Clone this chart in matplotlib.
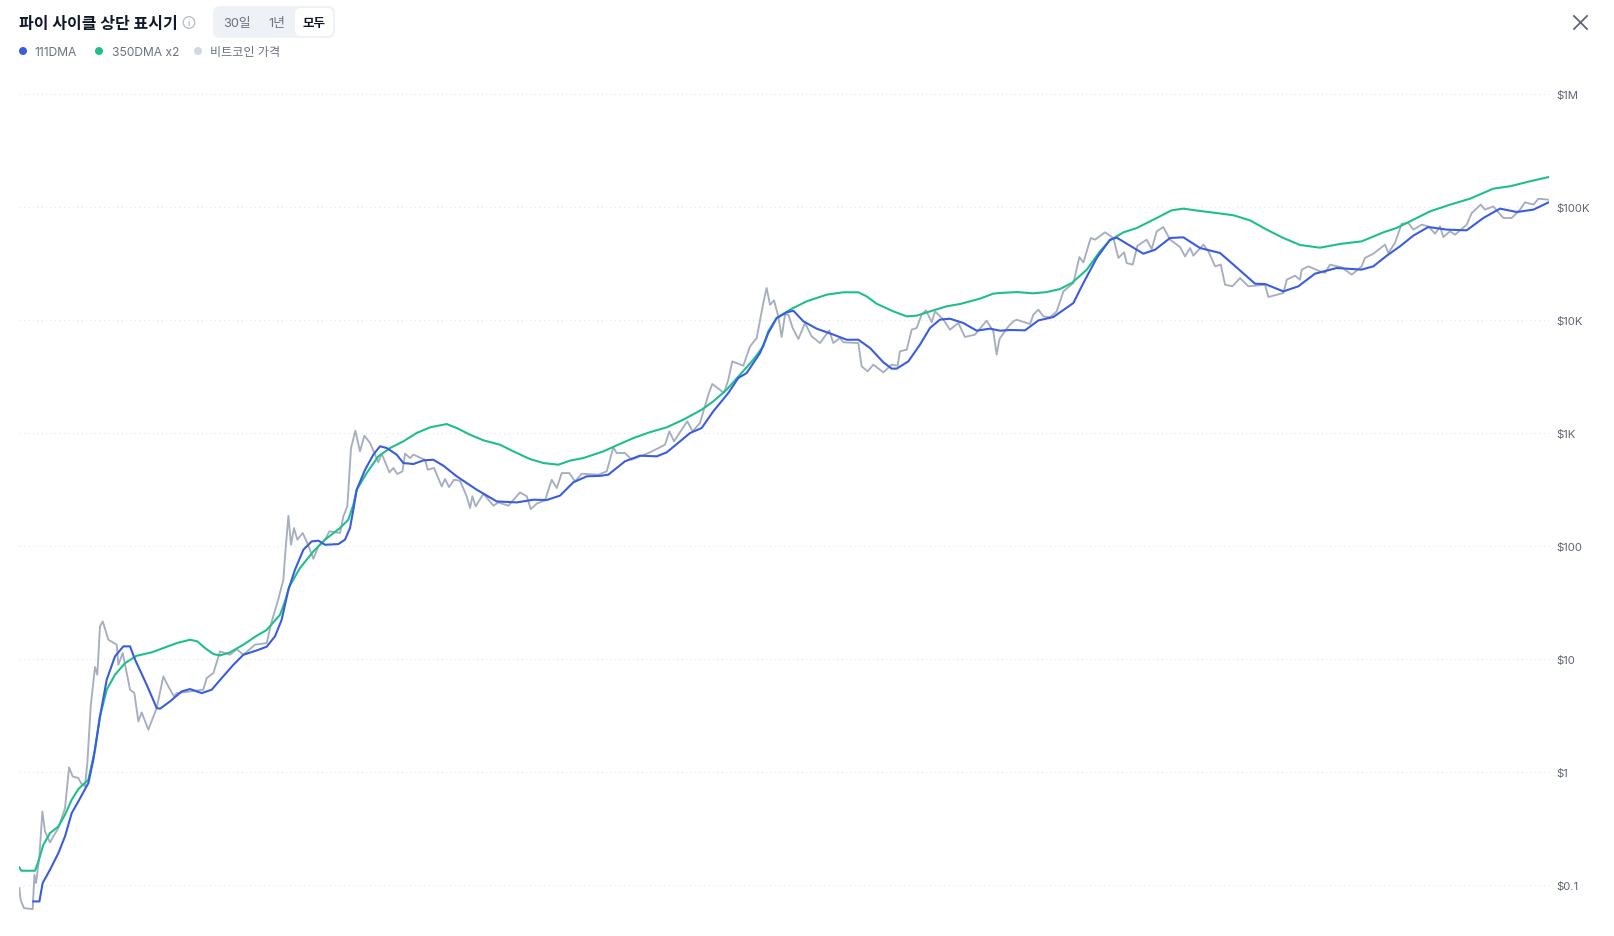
import numpy as np
import matplotlib
matplotlib.use("Agg")
import matplotlib.pyplot as plt
from matplotlib.patches import FancyBboxPatch, Circle

plt.rcParams['font.family'] = ['Inter', 'Noto Sans CJK KR', 'DejaVu Sans']

green_years = [2010.63, 2010.65, 2010.784, 2010.817, 2010.866, 2010.931, 2011.013, 2011.078, 2011.144, 2011.209,
               2011.307, 2011.372, 2011.421, 2011.487, 2011.568, 2011.667, 2011.781, 2011.928, 2012.042, 2012.173,
               2012.304, 2012.376, 2012.451, 2012.533, 2012.598, 2012.696, 2012.827, 2012.957, 2013.055, 2013.186,
               2013.235, 2013.278, 2013.382, 2013.513, 2013.627, 2013.774, 2013.856, 2013.905, 2013.938, 2014.036,
               2014.15, 2014.265, 2014.395, 2014.526, 2014.657, 2014.82, 2014.918, 2015.049, 2015.18, 2015.343,
               2015.474, 2015.637, 2015.768, 2015.915, 2016.029, 2016.16, 2016.356, 2016.486, 2016.65, 2016.813,
               2016.977, 2017.14, 2017.32, 2017.434, 2017.565, 2017.696, 2017.826, 2017.924, 2017.973, 2018.055,
               2018.186, 2018.349, 2018.545, 2018.709, 2018.856, 2018.937, 2019.035, 2019.199, 2019.33, 2019.428,
               2019.558, 2019.722, 2019.852, 2020.049, 2020.179, 2020.245, 2020.408, 2020.572, 2020.703, 2020.833,
               2020.948, 2021.095, 2021.225, 2021.323, 2021.454, 2021.585, 2021.748, 2021.928, 2022.042, 2022.206,
               2022.369, 2022.533, 2022.696, 2022.859, 2023.023, 2023.186, 2023.382, 2023.578, 2023.79, 2024.003,
               2024.134, 2024.297, 2024.461, 2024.657, 2024.853, 2025.081, 2025.245, 2025.441, 2025.624]
green_log = [-0.848, -0.877, -0.877, -0.795, -0.647, -0.544, -0.485, -0.381, -0.248, -0.154,
             -0.071, 0.194, 0.49, 0.726, 0.859, 0.962, 1.027, 1.057, 1.095, 1.139,
             1.169, 1.154, 1.095, 1.042, 1.03, 1.057, 1.125, 1.204, 1.255, 1.39,
             1.509, 1.641, 1.804, 1.951, 2.055, 2.158, 2.232, 2.365, 2.498, 2.645,
             2.793, 2.867, 2.926, 3.0, 3.05, 3.079, 3.044, 2.985, 2.935, 2.896,
             2.837, 2.769, 2.734, 2.719, 2.755, 2.778, 2.837, 2.89, 2.955, 3.007,
             3.05, 3.118, 3.206, 3.28, 3.384, 3.516, 3.649, 3.767, 3.9, 4.018,
             4.092, 4.166, 4.225, 4.246, 4.246, 4.21, 4.145, 4.077, 4.033, 4.039,
             4.077, 4.122, 4.142, 4.19, 4.234, 4.24, 4.248, 4.237, 4.248, 4.275,
             4.328, 4.446, 4.609, 4.706, 4.777, 4.815, 4.889, 4.972, 4.987, 4.966,
             4.948, 4.928, 4.883, 4.801, 4.727, 4.665, 4.641, 4.674, 4.697, 4.777,
             4.816, 4.889, 4.963, 5.022, 5.075, 5.164, 5.185, 5.229, 5.267]

blue_years = [2010.768, 2010.827, 2010.859, 2010.931, 2011.013, 2011.078, 2011.144, 2011.209, 2011.307,
              2011.356, 2011.421, 2011.487, 2011.568, 2011.65, 2011.716, 2011.765, 2011.879, 2011.977, 2012.01,
              2012.108, 2012.222, 2012.304, 2012.418, 2012.516, 2012.614, 2012.729, 2012.827, 2012.957, 2013.055,
              2013.137, 2013.202, 2013.268, 2013.333, 2013.415, 2013.497, 2013.562, 2013.627, 2013.758, 2013.823,
              2013.872, 2013.905, 2013.938, 2014.02, 2014.101, 2014.166, 2014.232, 2014.33, 2014.395, 2014.493,
              2014.591, 2014.689, 2014.788, 2014.918, 2015.114, 2015.31, 2015.506, 2015.67, 2015.8, 2015.931,
              2016.062, 2016.193, 2016.323, 2016.405, 2016.568, 2016.715, 2016.879, 2016.977, 2017.205, 2017.32,
              2017.434, 2017.581, 2017.679, 2017.761, 2017.892, 2017.973, 2018.055, 2018.153, 2018.219, 2018.317,
              2018.447, 2018.611, 2018.742, 2018.856, 2018.97, 2019.101, 2019.183, 2019.232, 2019.346, 2019.46,
              2019.558, 2019.656, 2019.754, 2019.885, 2020.016, 2020.147, 2020.245, 2020.343, 2020.49, 2020.621,
              2020.768, 2020.964, 2021.062, 2021.193, 2021.323, 2021.389, 2021.503, 2021.65, 2021.765, 2021.912,
              2022.042, 2022.206, 2022.402, 2022.533, 2022.745, 2022.843, 2023.023, 2023.17, 2023.333, 2023.545,
              2023.79, 2023.905, 2024.036, 2024.166, 2024.297, 2024.444, 2024.624, 2024.82, 2024.983, 2025.147,
              2025.311, 2025.474, 2025.624]
blue_log = [-1.149, -1.149, -0.986, -0.868, -0.721, -0.573, -0.366, -0.263, -0.101,
            0.106, 0.49, 0.815, 1.021, 1.11, 1.11, 0.992, 0.77, 0.564, 0.558,
            0.623, 0.711, 0.732, 0.696, 0.726, 0.829, 0.947, 1.036, 1.074, 1.107,
            1.199, 1.346, 1.612, 1.789, 1.966, 2.04, 2.046, 2.01, 2.016, 2.055,
            2.158, 2.321, 2.498, 2.675, 2.808, 2.882, 2.867, 2.808, 2.734, 2.725,
            2.757, 2.763, 2.71, 2.616, 2.498, 2.394, 2.385, 2.409, 2.406, 2.445,
            2.563, 2.616, 2.62, 2.631, 2.749, 2.799, 2.793, 2.828, 2.999, 3.044,
            3.192, 3.354, 3.487, 3.531, 3.708, 3.885, 4.018, 4.068, 4.083, 3.989,
            3.924, 3.871, 3.826, 3.826, 3.753, 3.626, 3.57, 3.57, 3.634, 3.782,
            3.93, 4.004, 4.012, 3.974, 3.906, 3.924, 3.906, 3.912, 3.909, 3.997,
            4.027, 4.151, 4.328, 4.55, 4.712, 4.73, 4.668, 4.588, 4.623, 4.727,
            4.733, 4.638, 4.594, 4.491, 4.322, 4.319, 4.254, 4.299, 4.411, 4.461,
            4.447, 4.476, 4.57, 4.653, 4.748, 4.824, 4.801, 4.795, 4.904, 4.987,
            4.957, 4.978, 5.043]

price_years = [2010.63, 2010.644, 2010.676, 2010.761, 2010.778, 2010.794, 2010.827, 2010.856, 2010.882, 2010.931,
               2010.964, 2011.013, 2011.078, 2011.118, 2011.153, 2011.209, 2011.235, 2011.274, 2011.297, 2011.33,
               2011.372, 2011.395, 2011.421, 2011.448, 2011.503, 2011.585, 2011.601, 2011.644, 2011.716, 2011.758,
               2011.797, 2011.83, 2011.895, 2011.977, 2012.042, 2012.091, 2012.147, 2012.173, 2012.304, 2012.434,
               2012.467, 2012.533, 2012.598, 2012.696, 2012.761, 2012.827, 2012.941, 2013.055, 2013.105, 2013.17,
               2013.219, 2013.235, 2013.268, 2013.294, 2013.323, 2013.356, 2013.408, 2013.454, 2013.513, 2013.562,
               2013.627, 2013.67, 2013.774, 2013.807, 2013.846, 2013.882, 2013.925, 2013.97, 2014.013, 2014.069,
               2014.15, 2014.183, 2014.258, 2014.297, 2014.336, 2014.386, 2014.412, 2014.461, 2014.493, 2014.608,
               2014.634, 2014.696, 2014.771, 2014.804, 2014.843, 2014.892, 2014.951, 2015.016, 2015.049, 2015.072,
               2015.104, 2015.18, 2015.278, 2015.327, 2015.425, 2015.539, 2015.605, 2015.644, 2015.703, 2015.784,
               2015.85, 2015.899, 2015.948, 2016.023, 2016.078, 2016.144, 2016.307, 2016.389, 2016.454, 2016.486,
               2016.568, 2016.633, 2016.715, 2016.813, 2016.96, 2017.003, 2017.049, 2017.107, 2017.179, 2017.231,
               2017.303, 2017.385, 2017.424, 2017.539, 2017.581, 2017.62, 2017.728, 2017.794, 2017.859, 2017.924,
               2017.957, 2017.99, 2018.029, 2018.071, 2018.104, 2018.137, 2018.17, 2018.212, 2018.268, 2018.333,
               2018.398, 2018.48, 2018.571, 2018.61, 2018.676, 2018.709, 2018.856, 2018.888, 2018.947, 2019.003,
               2019.101, 2019.183, 2019.241, 2019.264, 2019.33, 2019.379, 2019.428, 2019.476, 2019.519, 2019.575,
               2019.608, 2019.689, 2019.754, 2019.836, 2019.901, 2019.999, 2020.114, 2020.179, 2020.212, 2020.235,
               2020.245, 2020.327, 2020.376, 2020.408, 2020.539, 2020.572, 2020.621, 2020.67, 2020.735, 2020.8,
               2020.866, 2020.964, 2021.023, 2021.062, 2021.134, 2021.176, 2021.274, 2021.356, 2021.405, 2021.461,
               2021.487, 2021.546, 2021.592, 2021.683, 2021.732, 2021.781, 2021.846, 2021.912, 2022.01, 2022.059,
               2022.108, 2022.141, 2022.239, 2022.288, 2022.353, 2022.409, 2022.451, 2022.523, 2022.598, 2022.68,
               2022.843, 2022.876, 2023.023, 2023.056, 2023.137, 2023.186, 2023.202, 2023.268, 2023.382, 2023.431,
               2023.48, 2023.595, 2023.693, 2023.79, 2023.823, 2023.905, 2024.019, 2024.052, 2024.117, 2024.183,
               2024.248, 2024.297, 2024.379, 2024.444, 2024.51, 2024.559, 2024.591, 2024.657, 2024.706, 2024.82,
               2024.869, 2024.957, 2025.0, 2025.081, 2025.18, 2025.261, 2025.343, 2025.392, 2025.474, 2025.523,
               2025.624]
price_log = [-1.031, -1.14, -1.208, -1.217, -0.913, -0.986, -0.75, -0.352, -0.529, -0.626,
             -0.573, -0.499, -0.322, 0.038, -0.042, -0.056, -0.101, -0.13, 0.076, 0.578,
             0.927, 0.859, 1.287, 1.331, 1.169, 1.125, 0.947, 1.051, 0.726, 0.696,
             0.445, 0.525, 0.372, 0.564, 0.844, 0.755, 0.667, 0.696, 0.711, 0.726,
             0.829, 0.874, 1.065, 1.036, 1.086, 1.036, 1.125, 1.139, 1.331, 1.53,
             1.701, 1.907, 2.267, 2.011, 2.158, 2.055, 2.114, 2.025, 1.886, 1.996,
             2.055, 2.129, 2.114, 2.261, 2.35, 2.867, 3.02, 2.837, 2.976, 2.911,
             2.74, 2.817, 2.651, 2.69, 2.636, 2.66, 2.817, 2.778, 2.808, 2.763,
             2.675, 2.69, 2.527, 2.592, 2.521, 2.586, 2.577, 2.439, 2.335, 2.439,
             2.35, 2.462, 2.356, 2.385, 2.356, 2.474, 2.439, 2.326, 2.374, 2.403,
             2.586, 2.512, 2.645, 2.645, 2.571, 2.639, 2.631, 2.66, 2.873, 2.823,
             2.823, 2.764, 2.793, 2.828, 2.896, 3.014, 2.926, 3.006, 3.103, 3.014,
             3.088, 3.339, 3.434, 3.354, 3.472, 3.634, 3.596, 3.767, 3.841, 4.151,
             4.284, 4.136, 4.175, 4.033, 3.85, 4.048, 4.048, 3.93, 3.832, 3.974,
             3.856, 3.797, 3.909, 3.797, 3.841, 3.803, 3.797, 3.59, 3.546, 3.605,
             3.537, 3.605, 3.596, 3.723, 3.738, 3.915, 3.93, 4.048, 4.086, 3.98,
             4.077, 4.004, 3.915, 3.974, 3.85, 3.871, 3.995, 3.9, 3.694, 3.812,
             3.841, 3.944, 3.989, 4.003, 3.965, 4.048, 4.092, 4.033, 4.024, 4.077,
             4.254, 4.328, 4.558, 4.511, 4.727, 4.712, 4.777, 4.727, 4.55, 4.6,
             4.505, 4.491, 4.659, 4.712, 4.629, 4.786, 4.824, 4.712, 4.647, 4.564,
             4.638, 4.57, 4.668, 4.609, 4.476, 4.491, 4.313, 4.299, 4.372, 4.299,
             4.313, 4.204, 4.24, 4.358, 4.393, 4.358, 4.446, 4.476, 4.432, 4.417,
             4.491, 4.467, 4.402, 4.476, 4.55, 4.588, 4.668, 4.594, 4.683, 4.854,
             4.86, 4.801, 4.845, 4.83, 4.765, 4.83, 4.736, 4.786, 4.756, 4.845,
             4.948, 5.022, 4.978, 5.007, 4.904, 4.904, 4.978, 5.043, 5.022, 5.075,
             5.066]

tick_values = [0.1, 1, 10, 100, 1000, 10000, 100000, 1000000]
tick_labels = ['$0.1', '$1', '$10', '$100', '$1K', '$10K', '$100K', '$1M']

legend_names = ['111DMA', '350DMA x2', '비트코인 가격']
range_names = ['30일', '1년', '모두']

BLUE = '#3a5ce0'
GREEN = '#1fbf8c'
GRAY = '#a6aebf'
TEXT = '#6b7280'

W, H = 1615, 937
fig = plt.figure(figsize=(W / 100, H / 100), dpi=100, facecolor='white')

ax = fig.add_axes([19.3 / W, (H - 925.7) / H, 1529.4 / W, 865 / H])
ax.set_yscale('log')
ax.set_xlim(2010.63, 2025.624)
ax.set_ylim(10 ** -1.355, 10 ** 6.306)
ax.plot(price_years, 10 ** np.array(price_log), color=GRAY, lw=1.35, solid_joinstyle='round')
ax.plot(green_years, 10 ** np.array(green_log), color=GREEN, lw=1.5, solid_joinstyle='round')
ax.plot(blue_years, 10 ** np.array(blue_log), color=BLUE, lw=1.5, solid_joinstyle='round')

ax.yaxis.tick_right()
ax.set_yticks(tick_values)
ax.set_yticklabels(tick_labels, fontsize=8.2, color='#5f6673')
ax.minorticks_off()
ax.tick_params(axis='y', length=0, pad=5.5)
ax.set_xticks([])
ax.grid(axis='y', color='#e3e6ea', lw=0.8, ls=(0, (1, 3)))
ax.set_axisbelow(True)
for s in ax.spines.values():
    s.set_visible(False)
ax.patch.set_alpha(0)

# header, drawn in pixel coordinates
top = fig.add_axes([0, 0, 1, 1])
top.set_xlim(0, W)
top.set_ylim(H, 0)
top.axis('off')
top.patch.set_alpha(0)

top.text(19, 24, '파이 사이클 상단 표시기', fontsize=11.5, fontweight='bold', color='#111827', va='center')
top.add_patch(Circle((189, 23.5), 5.8, fc='none', ec='#b4b9c3', lw=0.9))
top.text(189, 23.5, 'i', fontsize=6.5, color='#9aa0ab', ha='center', va='center')

top.add_patch(FancyBboxPatch((217, 11), 114, 24, boxstyle='round,pad=4,rounding_size=7', fc='#eef1f5', ec='none'))
top.add_patch(FancyBboxPatch((298, 12), 32, 22, boxstyle='round,pad=3,rounding_size=6', fc='white', ec='none'))
top.text(237, 24, range_names[0], fontsize=9.2, color=TEXT, ha='center', va='center')
top.text(277, 24, range_names[1], fontsize=9.2, color=TEXT, ha='center', va='center')
top.text(314, 24, range_names[2], fontsize=9, color='#111827', fontweight='bold', ha='center', va='center')

for x_dot, x_text, col, name in zip([23, 99, 198], [34.5, 112, 210.5], [BLUE, GREEN, '#d2d6e5'], legend_names):
    top.add_patch(Circle((x_dot, 52), 4, fc=col, ec='none'))
    top.text(x_text, 53, name, fontsize=8.7, color=TEXT, va='center')

top.plot([1574, 1587], [17, 30], color='#5f6673', lw=1.3)
top.plot([1574, 1587], [30, 17], color='#5f6673', lw=1.3)

fig.savefig('out.png', dpi=100)
